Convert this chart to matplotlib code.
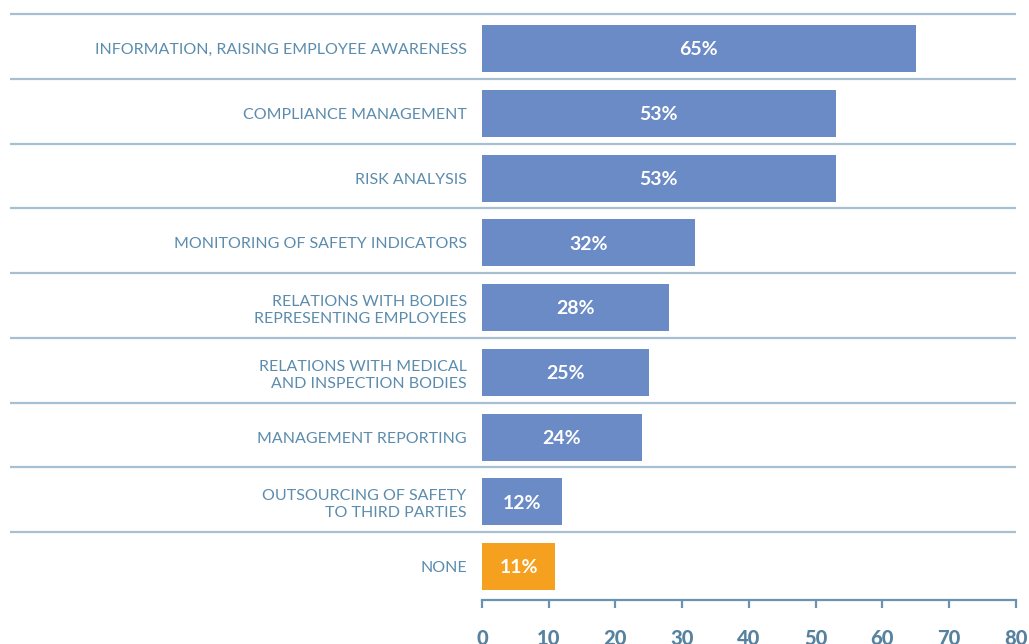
import numpy as np
import matplotlib
matplotlib.use("Agg")
import matplotlib.pyplot as plt

categories = [
    "INFORMATION, RAISING EMPLOYEE AWARENESS",
    "COMPLIANCE MANAGEMENT",
    "RISK ANALYSIS",
    "MONITORING OF SAFETY INDICATORS",
    "RELATIONS WITH BODIES\nREPRESENTING EMPLOYEES",
    "RELATIONS WITH MEDICAL\nAND INSPECTION BODIES",
    "MANAGEMENT REPORTING",
    "OUTSOURCING OF SAFETY\nTO THIRD PARTIES",
    "NONE",
]
values = [65, 53, 53, 32, 28, 25, 24, 12, 11]
x_ticks = [0, 10, 20, 30, 40, 50, 60, 70, 80]

BLUE = "#6b8bc6"
ORANGE = "#f6a01f"
TEXT = "#5b8cad"
AXIS = "#6a93b1"
SEP = "#a6bfd1"

plt.rcParams["font.family"] = ["Lato", "DejaVu Sans"]

DPI = 100
fig = plt.figure(figsize=[10.29, 6.44], dpi=DPI)
W, H = 1029, 644
# axes from x=482..1015.6 px, y=14..600 px (from top)
ax = fig.add_axes([482 / W, 1 - 600 / H, 533.6 / W, 586 / H])

ypos = np.arange(len(values))
colors = [BLUE] * (len(values) - 1) + [ORANGE]
ax.barh(ypos, values, height=0.726, color=colors, zorder=2)

for y, v in zip(ypos, values):
    ax.text(v / 2, y + 0.02, "{}%".format(v), ha="center", va="center",
            color="white", fontsize=14, fontweight="bold", zorder=3)

# separators between rows, running from the left margin to the right end
ax.hlines(ypos - 0.533, -0.885, 1.0, transform=ax.get_yaxis_transform(),
          color=SEP, linewidth=1.6, clip_on=False, zorder=1)

ax.set_xlim(0, 80)
ax.set_ylim(8.517, -0.533)

ax.set_yticks(ypos)
ax.set_yticklabels(categories, fontsize=11.5, color=TEXT, linespacing=1.25)
ax.tick_params(axis="y", length=0, pad=11)

ax.set_xticks(x_ticks)
ax.set_xticklabels([str(t) for t in x_ticks], fontsize=14.5, fontweight=900, color="#56829f")
ax.tick_params(axis="x", direction="out", length=6, width=1.6, color=AXIS, pad=15)

for s in ["top", "right", "left"]:
    ax.spines[s].set_visible(False)
ax.spines["bottom"].set_color(AXIS)
ax.spines["bottom"].set_linewidth(1.6)

fig.savefig("out.png", dpi=DPI)
